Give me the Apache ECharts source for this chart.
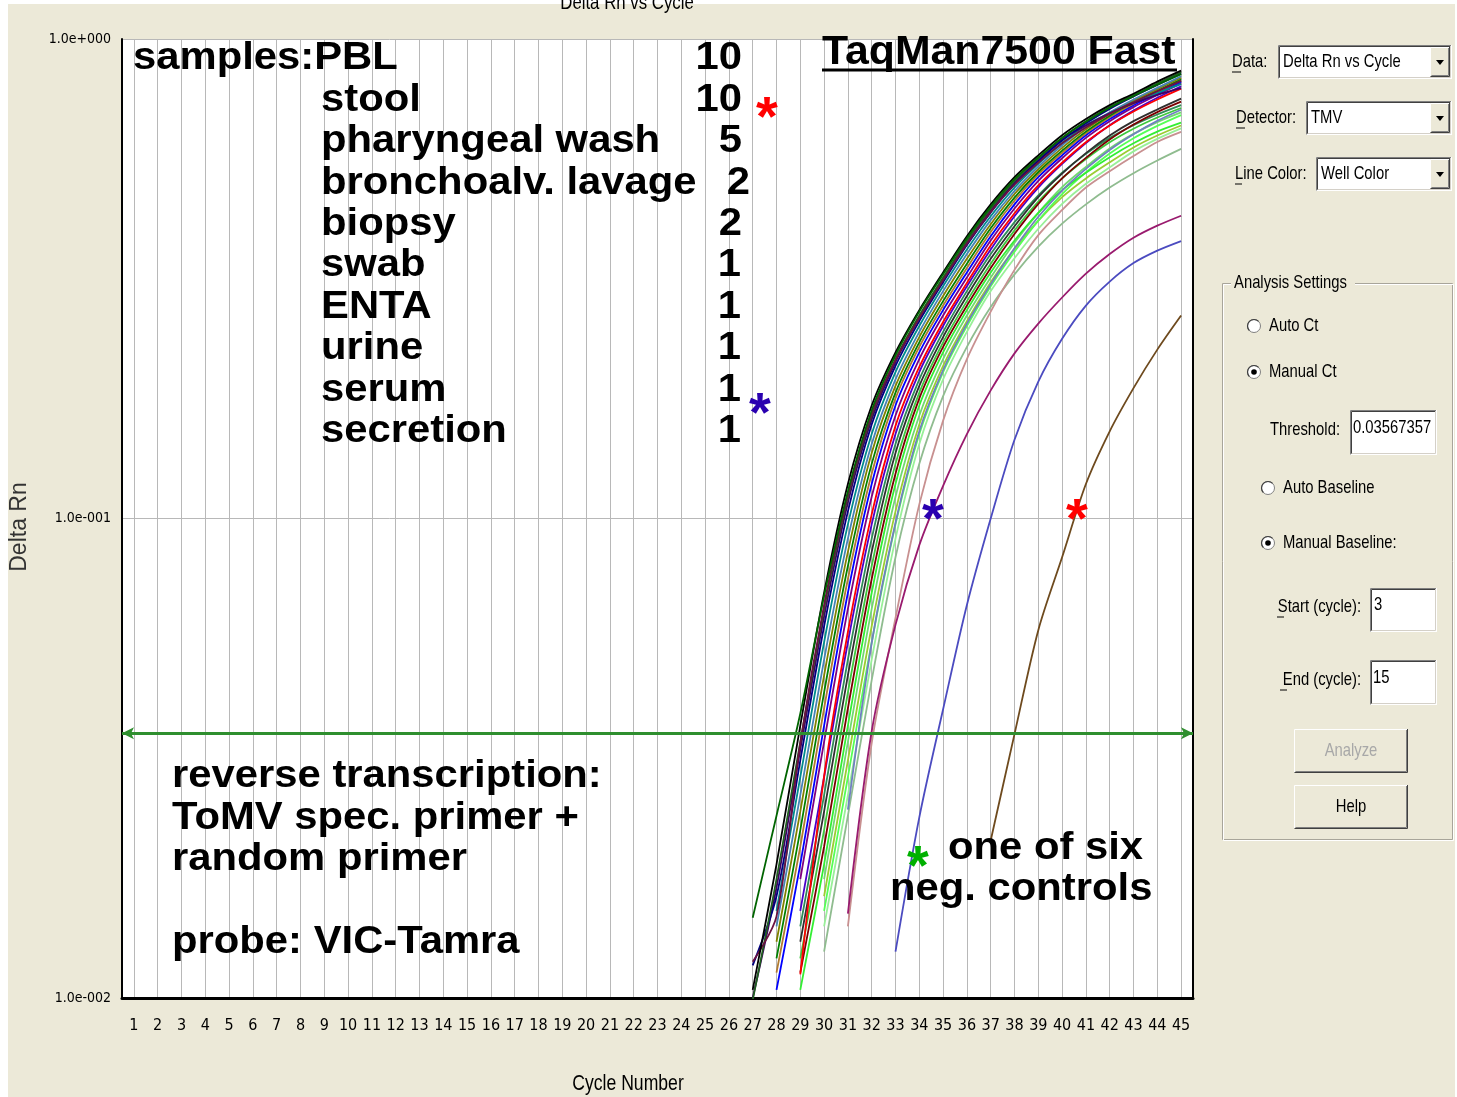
<!DOCTYPE html>
<html><head><meta charset="utf-8">
<script src="https://cdn.jsdelivr.net/npm/echarts@6/dist/echarts.min.js"></script>
<style>
html,body{margin:0;padding:0;background:#fff;}
#bg{position:absolute;left:8px;top:4px;width:1447px;height:1093px;background:#ece9d8;}
#chart{position:absolute;left:0;top:0;width:1457px;height:1097px;}
</style></head><body>
<div id="bg"></div><div id="chart"></div>
<script>
// ---- data ----
const cycleLabels = ['1','2','3','4','5','6','7','8','9','10','11','12','13','14','15','16','17','18','19','20','21','22','23','24','25','26','27','28','29','30','31','32','33','34','35','36','37','38','39','40','41','42','43','44','45'];
const yTickValues = [0.01, 0.1, 1];
const yTickLabels = ['1.0e-002', '1.0e-001', '1.0e+000'];
const threshold = 0.03567357;

const w01 = [0.0147,0.0240,0.0392,0.0690,0.114,0.168,0.219,0.270,0.323,0.384,0.447,0.510,0.566,0.622,0.672,0.719,0.760,0.803,0.845];
const w02 = [0.0104,0.0190,0.0370,0.0700,0.118,0.172,0.222,0.272,0.326,0.388,0.452,0.515,0.572,0.630,0.681,0.728,0.769,0.815,0.859];
const w03 = [0.0119,0.0148,0.0340,0.0660,0.112,0.165,0.214,0.262,0.314,0.374,0.436,0.497,0.552,0.606,0.654,0.698,0.738,0.778,0.818];
const w04 = [0.0099,0.0177,0.0342,0.0648,0.111,0.164,0.215,0.265,0.318,0.380,0.443,0.506,0.564,0.622,0.674,0.721,0.764,0.808,0.853];
const w05 = [0.0117,0.0163,0.0313,0.0596,0.1035,0.157,0.208,0.258,0.311,0.372,0.435,0.498,0.556,0.614,0.667,0.715,0.759,0.802,0.847];
const w06 = [0.0100,0.0170,0.0330,0.0625,0.108,0.161,0.212,0.262,0.315,0.376,0.439,0.502,0.560,0.618,0.660,0.700,0.735,0.765,0.790];
const w07 = [0.0152,0.0289,0.0552,0.0972,0.150,0.202,0.252,0.305,0.364,0.427,0.490,0.549,0.607,0.661,0.700,0.738,0.772,0.805];
const w08 = [0.0141,0.0265,0.0508,0.0908,0.143,0.195,0.245,0.298,0.356,0.419,0.482,0.542,0.600,0.655,0.703,0.748,0.791,0.836];
const w09 = [0.0131,0.0245,0.0471,0.0852,0.137,0.189,0.239,0.291,0.348,0.411,0.475,0.535,0.593,0.648,0.698,0.743,0.786,0.830];
const w10 = [0.0121,0.0224,0.0434,0.0796,0.130,0.183,0.233,0.284,0.340,0.403,0.467,0.528,0.585,0.641,0.692,0.738,0.780,0.824];
const w11 = [0.0113,0.0207,0.0402,0.0748,0.124,0.178,0.228,0.278,0.333,0.396,0.460,0.522,0.579,0.636,0.687,0.733,0.775,0.820];
const w12 = [0.0104,0.0190,0.0370,0.0700,0.118,0.172,0.222,0.272,0.326,0.388,0.452,0.515,0.572,0.630,0.681,0.728,0.769,0.815];
const w13 = [0.0177,0.0342,0.0648,0.111,0.164,0.215,0.265,0.318,0.380,0.443,0.506,0.564,0.622,0.674,0.721,0.764,0.808];
const w14 = [0.0112,0.0290,0.0580,0.1020,0.156,0.207,0.257,0.310,0.371,0.433,0.495,0.552,0.609,0.660,0.706,0.748,0.788];
const w15 = [0.0152,0.0289,0.0552,0.0972,0.150,0.202,0.252,0.305,0.364,0.427,0.490,0.549,0.607,0.661,0.709,0.754,0.797];
const w16 = [0.0141,0.0265,0.0508,0.0908,0.143,0.195,0.245,0.298,0.356,0.415,0.472,0.526,0.576,0.622,0.661,0.696,0.728];
const w17 = [0.0131,0.0245,0.0471,0.0852,0.137,0.189,0.239,0.291,0.348,0.407,0.468,0.524,0.578,0.629,0.674,0.713,0.751];
const w18 = [0.0121,0.0224,0.0434,0.0796,0.130,0.183,0.233,0.284,0.340,0.399,0.458,0.512,0.562,0.609,0.650,0.686,0.718];
const w19 = [0.0113,0.0207,0.0402,0.0748,0.124,0.178,0.228,0.278,0.333,0.392,0.453,0.512,0.565,0.617,0.663,0.704,0.740];
const w20 = [0.0104,0.0190,0.0370,0.0700,0.118,0.172,0.222,0.272,0.326,0.380,0.434,0.484,0.526,0.567,0.606,0.641,0.669];
const w21 = [0.0177,0.0342,0.0648,0.111,0.164,0.215,0.265,0.318,0.376,0.434,0.491,0.541,0.591,0.634,0.671,0.703];
const w22 = [0.0163,0.0313,0.0596,0.1035,0.157,0.208,0.258,0.311,0.365,0.418,0.468,0.512,0.553,0.594,0.629,0.660];
const w23 = [0.0152,0.0289,0.0552,0.0972,0.150,0.202,0.252,0.305,0.360,0.418,0.475,0.527,0.577,0.621,0.659,0.694];
const w24 = [0.0141,0.0265,0.0508,0.0908,0.143,0.195,0.245,0.298,0.349,0.402,0.453,0.499,0.540,0.583,0.619,0.651];
const w25 = [0.0247,0.0550,0.0980,0.152,0.204,0.255,0.308,0.366,0.426,0.483,0.536,0.587,0.633,0.675,0.712];
const w26 = [0.0125,0.0240,0.0460,0.0830,0.130,0.180,0.228,0.276,0.323,0.369,0.412,0.452,0.490,0.525,0.558,0.590];
const w27 = [0.0141,0.0340,0.0620,0.107,0.160,0.215,0.270,0.330,0.390,0.440,0.490,0.530,0.570,0.610,0.640];
const w28 = [0.0150,0.0360,0.0600,0.0880,0.117,0.150,0.185,0.221,0.255,0.289,0.324,0.356,0.385,0.408,0.428];
const w29 = [0.0125,0.0238,0.0400,0.0660,0.100,0.146,0.193,0.237,0.278,0.312,0.341,0.362,0.379];
const w30 = [0.0213,0.0355,0.0585,0.083,0.118,0.152,0.187,0.225,0.265];

const wells = [w26,w24,w22,w23,w21,w20,w18,w16,w25,w27,w17,w15,w19,w14,w13,w12,w11,w10,w09,w08,w07,w06,w05,w04,w03,w02,w01,w28,w29,w30];
const wellStarts = [30,30,30,30,30,29,29,29,31,31,29,29,29,29,29,28,28,28,28,28,28,27,27,27,27,27,27,31,33,37];
const wellColors = ['#8fbc8f','#98f098','#9acd32','#55ff55','#70d870','#33ee33','#3cc83c','#2e8b57','#7080c0','#c89090',
  '#2f2f2f','#4b00c8','#7a0000','#ff0000','#800080','#0000ff','#b07a30','#008000','#808000','#4682b4',
  '#008b8b','#400060','#000080','#1f5f1f','#6b1040','#000000','#006400','#991a6e','#4b4bc0','#6e4a1e'];

// ---- chart ----
const COND = '"DejaVu Sans Condensed","Liberation Sans Narrow",sans-serif';
const BOLD = '"Liberation Sans",Arial,sans-serif';

const series = wells.map((vals, i) => ({
  type: 'line', name: 'well ' + (i + 1),
  data: vals.map((v, k) => [String(wellStarts[i] + k), v]),
  showSymbol: false, symbol: 'none', smooth: 0.3, silent: true,
  lineStyle: { width: 1.8, color: wellColors[i] }, itemStyle: { color: wellColors[i] }
}));
series.push({
  type: 'line', name: 'threshold', data: [], silent: true, z: 5,
  markLine: {
    silent: true, precision: 10, symbol: ['arrow', 'arrow'], symbolSize: [9, 12], label: { show: false },
    lineStyle: { color: '#2f8f2f', width: 3, type: 'solid' },
    emphasis: { disabled: true },
    data: [{ yAxis: threshold }]
  }
});

function T(text, x, y, font, extra) {
  const st = Object.assign({ text: text, font: font, fill: '#000', align: 'left', verticalAlign: 'middle', textAlign: 'left', textVerticalAlign: 'middle' }, (extra && extra.style) || {});
  return Object.assign({ type: 'text', x: x, y: y, z: 100, silent: true, style: st }, (extra && extra.el) || {});
}
const big = 'bold 38px ' + BOLD;
const S = { el: { scaleX: 1.1 } };
const R = { el: { scaleX: 1.1 }, style: { align: 'right', textAlign: 'right' } };
const G = [];
// sample list
const rowNames = ['stool', 'pharyngeal wash', 'bronchoalv. lavage', 'biopsy', 'swab', 'ENTA', 'urine', 'serum', 'secretion'];
const rowCounts = ['10', '10', '5', '2', '2', '1', '1', '1', '1', '1'];
const rowCountX = [742, 742, 742, 750, 742, 741, 741, 741, 741, 741];
G.push(T('samples:PBL', 133, 59, big, S));
rowNames.forEach((n, i) => G.push(T(n, 321, 100.4 + 41.4 * i, big, S)));
rowCounts.forEach((n, i) => G.push(T(n, rowCountX[i], 59 + 41.4 * i, big, R)));
// title
G.push(T('TaqMan7500 Fast', 822, 53, 'bold 40px ' + BOLD, { el: { scaleX: 1.07 } }));
G.push({ type: 'line', z: 100, silent: true, shape: { x1: 822, y1: 70, x2: 1177, y2: 70 }, style: { stroke: '#000', lineWidth: 3 } });
// lower text
G.push(T('reverse transcription:', 172, 777, big, S));
G.push(T('ToMV spec. primer +', 172, 818.5, big, S));
G.push(T('random primer', 172, 860, big, S));
G.push(T('probe: VIC-Tamra', 172, 943, big, S));
G.push(T('one of six', 948, 849, big, S));
G.push(T('neg. controls', 890, 890, big, S));
// stars
function star(x, y, c) { return T('*', x, y + 12, 'bold 56px ' + BOLD, { style: { fill: c, align: 'center', textAlign: 'center' } }); }
G.push(star(767, 108, '#ff0000'), star(760, 404, '#2a00b0'), star(933, 510, '#2a00b0'), star(1077, 510, '#ff0000'), star(918, 857, '#00b000'));
// axis titles
const NAR = { el: { scaleX: 0.8 }, style: { align: 'center', textAlign: 'center' } };
G.push(T('Delta Rn vs Cycle', 627, 3, '21px "Liberation Sans",Arial,sans-serif', NAR));
G.push(T('Cycle Number', 628, 1084, '22px "Liberation Sans",Arial,sans-serif', NAR));
G.push(T('Delta Rn', 20, 527, '23px "Liberation Sans",Arial,sans-serif', { el: { rotation: Math.PI / 2 }, style: { align: 'center', textAlign: 'center', fill: '#333' } }));

// ---- right UI panel ----
const UI = '19px "Liberation Sans",Arial,sans-serif';
const NX = 0.78;
function U(text, x, y, extra) {
  const e = extra || {};
  return T(text, x, y, UI, { el: Object.assign({ scaleX: NX }, e.el || {}), style: e.style || {} });
}
const UR = { style: { align: 'right', textAlign: 'right' } };
function pl(points, stroke, z) { return { type: 'polyline', z: z || 95, silent: true, shape: { points: points }, style: { stroke: stroke, lineWidth: 1, fill: null } }; }
function sunken(x, y, w, h) {
  return [
    { type: 'rect', z: 90, silent: true, shape: { x: x, y: y, width: w, height: h }, style: { fill: '#fff' } },
    pl([[x + 0.5, y + h], [x + 0.5, y + 0.5], [x + w, y + 0.5]], '#808080'),
    pl([[x + 1.5, y + h - 1], [x + 1.5, y + 1.5], [x + w - 1, y + 1.5]], '#404040'),
    pl([[x + 0.5, y + h - 0.5], [x + w - 0.5, y + h - 0.5], [x + w - 0.5, y]], '#ffffff'),
    pl([[x + 1.5, y + h - 1.5], [x + w - 1.5, y + h - 1.5], [x + w - 1.5, y + 1]], '#d4d0c8')
  ];
}
function raised(x, y, w, h) {
  return [
    { type: 'rect', z: 96, silent: true, shape: { x: x, y: y, width: w, height: h }, style: { fill: '#ece9d8' } },
    pl([[x + 0.5, y + h - 1], [x + 0.5, y + 0.5], [x + w - 1, y + 0.5]], '#ffffff', 97),
    pl([[x + 0.5, y + h - 0.5], [x + w - 0.5, y + h - 0.5], [x + w - 0.5, y]], '#404040', 97),
    pl([[x + 1.5, y + h - 1.5], [x + w - 1.5, y + h - 1.5], [x + w - 1.5, y + 1]], '#808080', 97)
  ];
}
function combo(x, y, w, h, text) {
  const arr = sunken(x, y, w, h).concat(raised(x + w - 22, y + 2, 20, h - 4));
  const cx = x + w - 12, cy = y + h / 2;
  arr.push({ type: 'polygon', z: 98, silent: true, shape: { points: [[cx - 4, cy - 2], [cx + 4, cy - 2], [cx, cy + 3]] }, style: { fill: '#000' } });
  arr.push(U(text, x + 5, cy));
  return arr;
}
function ul(x1, x2, y) { return { type: 'line', z: 100, silent: true, shape: { x1: x1, y1: y, x2: x2, y2: y }, style: { stroke: '#000', lineWidth: 1 } }; }
function radio(cx, cy, on) {
  const arr = [
    { type: 'circle', z: 90, silent: true, shape: { cx: cx, cy: cy, r: 6.5 }, style: { fill: '#fff', stroke: '#808080', lineWidth: 1 } },
    { type: 'arc', z: 91, silent: true, shape: { cx: cx, cy: cy, r: 6.5, startAngle: Math.PI * 0.75, endAngle: Math.PI * 1.75 }, style: { stroke: '#404040', lineWidth: 1.2, fill: null } }
  ];
  if (on) arr.push({ type: 'circle', z: 92, silent: true, shape: { cx: cx, cy: cy, r: 2.8 }, style: { fill: '#000' } });
  return arr;
}
G.push(U('Data:', 1232, 62), ul(1232, 1241, 72));
G.push(...combo(1278, 45, 174, 34, 'Delta Rn vs Cycle'));
G.push(U('Detector:', 1236, 118), ul(1236, 1245, 128));
G.push(...combo(1306, 101, 146, 34, 'TMV'));
G.push(U('Line Color:', 1235, 174), ul(1235, 1242, 184));
G.push(...combo(1316, 157, 136, 34, 'Well Color'));
// group box
G.push({ type: 'rect', z: 89, silent: true, shape: { x: 1222.5, y: 283.5, width: 230, height: 556 }, style: { fill: null, stroke: '#a8a59a', lineWidth: 1 } });
G.push({ type: 'rect', z: 89, silent: true, shape: { x: 1223.5, y: 284.5, width: 230, height: 556 }, style: { fill: null, stroke: '#ffffff', lineWidth: 1 } });
G.push({ type: 'rect', z: 90, silent: true, shape: { x: 1231, y: 272, width: 124, height: 22 }, style: { fill: '#ece9d8' } });
G.push(U('Analysis Settings', 1234, 283));
G.push(...radio(1254, 326, false), U('Auto Ct', 1269, 326));
G.push(...radio(1254, 372, true), U('Manual Ct', 1269, 372));
G.push(U('Threshold:', 1340, 430, UR));
G.push(...sunken(1350, 410, 87, 45), U(String(threshold), 1353, 428));
G.push(...radio(1268, 488, false), U('Auto Baseline', 1283, 488));
G.push(...radio(1268, 543, true), U('Manual Baseline:', 1283, 543));
G.push(U('Start (cycle):', 1361, 607, UR), ul(1277, 1284, 617));
G.push(...sunken(1370, 588, 67, 44), U('3', 1374, 605));
G.push(U('End (cycle):', 1361, 680, UR), ul(1280, 1287, 690));
G.push(...sunken(1370, 660, 67, 45), U('15', 1373, 678));
G.push(...raised(1294, 729, 114, 44), U('Analyze', 1351, 751, { style: { align: 'center', textAlign: 'center', fill: '#a8a8a8' } }));
G.push(...raised(1294, 785, 114, 44), U('Help', 1351, 807, { style: { align: 'center', textAlign: 'center' } }));

const chart = echarts.init(document.getElementById('chart'), null, { renderer: 'canvas' });
chart.setOption({
  animation: false,
  backgroundColor: 'transparent',
  grid: { left: 122, right: 264, top: 39, bottom: 99, show: true, backgroundColor: '#ffffff', borderWidth: 0, containLabel: false },
  xAxis: {
    type: 'category', data: cycleLabels, boundaryGap: true,
    axisLine: { show: true, onZero: false, lineStyle: { color: '#000', width: 3 } },
    axisTick: { show: false, alignWithLabel: true },
    axisLabel: { interval: 0, fontFamily: COND, fontSize: 16, color: '#000', margin: 20 },
    splitLine: { show: true, interval: 0, alignWithLabel: true, lineStyle: { color: '#b8b8b8', width: 1 } }
  },
  yAxis: [{
    type: 'log', logBase: 10, min: 0.01, max: 1,
    axisLine: { show: true, lineStyle: { color: '#000', width: 2 } },
    axisTick: { show: false },
    axisLabel: {
      fontFamily: COND, fontSize: 14, color: '#000', margin: 11,
      formatter: function (v) {
        let best = 0;
        yTickValues.forEach((t, i) => { if (Math.abs(Math.log10(t) - Math.log10(v)) < Math.abs(Math.log10(yTickValues[best]) - Math.log10(v))) best = i; });
        return yTickLabels[best];
      }
    },
    splitLine: { show: true, lineStyle: { color: '#b8b8b8', width: 1 } }
  }, {
    type: 'log', logBase: 10, min: 0.01, max: 1, position: 'right',
    axisLine: { show: true, lineStyle: { color: '#000', width: 2 } },
    axisTick: { show: false }, axisLabel: { show: false }, splitLine: { show: false }
  }],
  series: series,
  graphic: { elements: G }
});
</script>
</body></html>
